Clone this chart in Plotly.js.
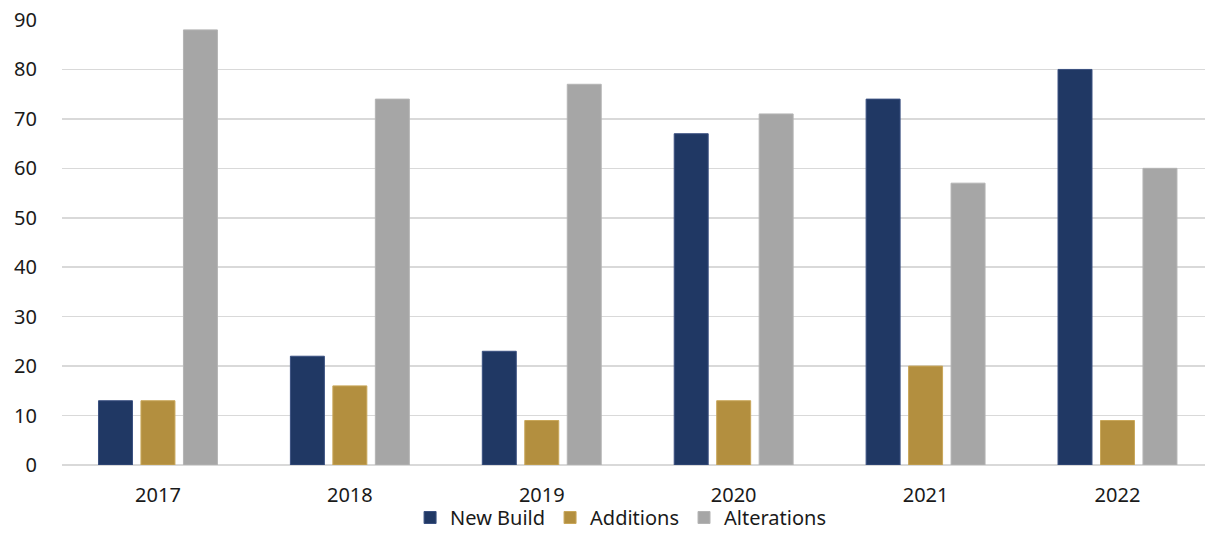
<!DOCTYPE html>
<html><head><meta charset="utf-8">
<script src="https://cdn.plot.ly/plotly-3.0.1.min.js"></script>
<style>html,body{margin:0;padding:0;background:#fff}</style>
</head><body>
<div id="chart" style="width:1205px;height:537px"></div>
<script>
const years = ["2017","2018","2019","2020","2021","2022"];
const newBuild = [13, 22, 23, 67, 74, 80];
const additions = [13, 16, 9, 13, 20, 9];
const alterations = [88, 74, 77, 71, 57, 60];

const traces = [
  {type:"bar", name:"New Build", x:years, y:newBuild, marker:{color:"#203864", line:{color:"#3a5080", width:1}}},
  {type:"bar", name:"Additions", x:years, y:additions, marker:{color:"#B38F3F", line:{color:"#c9a75a", width:1}}},
  {type:"bar", name:"Alterations", x:years, y:alterations, marker:{color:"#A6A6A6", line:{color:"#b4b4b4", width:1}}}
];
const layout = {
  width:1205, height:537,
  margin:{l:61.5, r:0, t:20, b:72, autoexpand:false},
  paper_bgcolor:"#fff", plot_bgcolor:"#fff",
  font:{family:"Noto Sans, Open Sans, sans-serif", size:20, color:"#1a1a1a"},
  barmode:"group", bargap:0.336, bargroupgap:0.2,
  xaxis:{type:"category", range:[-0.5, 5.456], automargin:false, showgrid:false, zeroline:false, showline:false, ticks:"", ticklabelstandoff:16, tickfont:{size:20}},
  yaxis:{range:[0,90], dtick:10, automargin:false, showgrid:true, gridcolor:"#D9D9D9", gridwidth:1.5, zeroline:true, zerolinecolor:"#D9D9D9", zerolinewidth:1.5, showline:false, ticks:"", ticklabelstandoff:24, tickfont:{size:20}},
  showlegend:true,
  legend:{orientation:"h", x:0.515, xanchor:"center", xref:"container", y:-0.013, yanchor:"bottom", yref:"container", bgcolor:"rgba(0,0,0,0)", font:{size:20}, itemwidth:30, tracegroupgap:0, traceorder:"normal"}
};
Plotly.newPlot("chart", traces, layout, {displayModeBar:false, staticPlot:true});
</script>
</body></html>
